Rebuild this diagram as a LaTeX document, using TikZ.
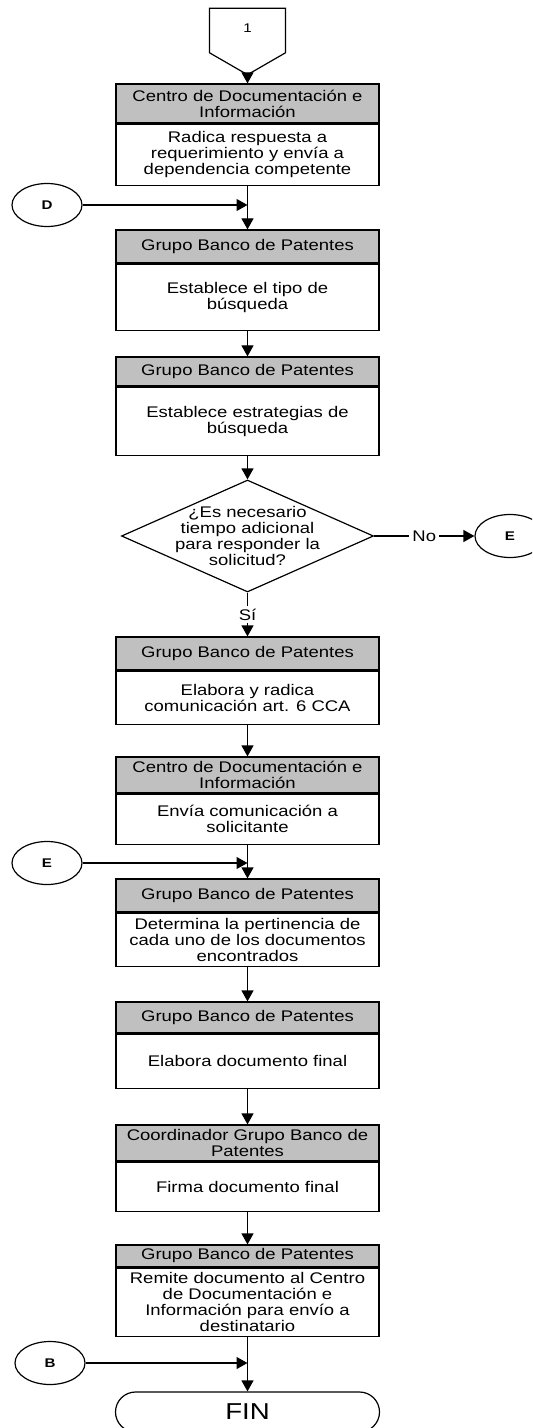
\documentclass[tikz,border=0pt]{standalone}
\usepackage{fontspec}
\setmainfont{Liberation Sans}[FakeStretch=1.2]
\usetikzlibrary{shapes,arrows.meta,positioning}
\definecolor{headgray}{RGB}{192,192,192}
\newcommand{\boxfont}{\fontsize{7.7}{8}\selectfont}

\begin{document}
\begin{tikzpicture}[
    x=0.5pt, y=-0.5pt,
    font=\boxfont,
    head/.style={draw, fill=headgray, rectangle, minimum width=131.5pt, align=center, inner sep=1pt, line width=0.6pt},
    body/.style={draw, fill=white, rectangle, minimum width=131.5pt, align=center, inner sep=1pt, line width=0.6pt},
    connector/.style={draw, ellipse, minimum width=35pt, minimum height=21.5pt, inner sep=0pt, line width=0.6pt, font=\fontsize{6.3}{7}\selectfont\bfseries},
    offpage/.style={draw, signal, signal to=south, signal pointer angle=120, minimum width=38pt, minimum height=23.5pt, inner sep=0pt, line width=0.6pt, font=\fontsize{6.3}{7}\selectfont},
    decision/.style={draw, diamond, aspect=2.25, minimum width=126pt, minimum height=56pt, inner xsep=-8pt, inner ysep=0pt, align=center, line width=0.6pt},
    terminal/.style={draw, rectangle, rounded corners=10pt, minimum width=132pt, minimum height=20pt, line width=0.6pt, font=\fontsize{11.5}{12}\selectfont},
    tag/.style={fill=white, inner sep=1.5pt},
    arrow/.style={-{Triangle[width=6pt,length=5.5pt]}, line width=0.6pt}
]
\useasboundingbox (0,0) rectangle (532,1428);
\clip (0,0) rectangle (532,1428);

% Start
\node[offpage] (c1) at (247.5,30.5) {\raisebox{2.5pt}{1}};

% Reception
\node[head, minimum height=19.5pt] (h1) at (247.5,103.5) {Centro de Documentación e\\Información};
\node[body, below=0pt of h1, minimum height=30.5pt] (b1) {Radica respuesta a\\requerimiento y envía a\\dependencia competente};

% Search
\node[head, minimum height=16.5pt] (h2) at (247.5,246.5) {Grupo Banco de Patentes};
\node[body, below=0pt of h2, minimum height=33pt] (b2) {Establece el tipo de\\búsqueda};
\node[head, minimum height=14.5pt] (h3) at (247.5,371.5) {Grupo Banco de Patentes};
\node[body, below=0pt of h3, minimum height=34pt] (b3) {Establece estrategias de\\búsqueda};

% Decision
\node[decision] (q) at (247.5,536) {¿Es necesario\\tiempo adicional\\para responder la\\solicitud?};
\node[connector] (Er) at (510,536) {E};

% Extra time
\node[head, minimum height=16.5pt] (h4) at (247.5,653.5) {Grupo Banco de Patentes};
\node[body, below=0pt of h4, minimum height=26.5pt] (b4) {Elabora y radica\\comunicación art. 6 CCA};
\node[head, minimum height=18pt] (h5) at (247.5,775) {Centro de Documentación e\\Información};
\node[body, below=0pt of h5, minimum height=25pt] (b5) {Envía comunicación a\\solicitante};

% Answer
\node[head, minimum height=16.5pt] (h6) at (247.5,895.5) {Grupo Banco de Patentes};
\node[body, below=0pt of h6, minimum height=26.5pt] (b6) {Determina la pertinencia de\\cada uno de los documentos\\encontrados};
\node[head, minimum height=15.5pt] (h7) at (247.5,1017.5) {Grupo Banco de Patentes};
\node[body, below=0pt of h7, minimum height=27pt] (b7) {Elabora documento final};
\node[head, minimum height=18pt] (h8) at (247.5,1143) {Coordinador Grupo Banco de\\Patentes};
\node[body, below=0pt of h8, minimum height=24.5pt] (b8) {Firma documento final};
\node[head, minimum height=11pt] (h9) at (247.5,1256) {Grupo Banco de Patentes};
\node[body, below=0pt of h9, minimum height=34pt] (b9) {Remite documento al Centro\\de Documentación e\\Información para envío a\\destinatario};

% End
\node[terminal] (fin) at (247.5,1412) {FIN};

% Side connectors
\node[connector] (D) at (47,205) {D};
\node[connector] (El) at (47,863) {E};
\node[connector] (B) at (50,1363) {B};
\coordinate (jD) at (247.5,205);
\coordinate (jE) at (247.5,863);
\coordinate (jB) at (247.5,1363);

% Arrows
\draw[arrow] (c1.south) -- (h1);
\foreach \a/\b in {b1/h2, b2/h3, b3/q, b4/h5, b5/h6, b6/h7, b7/h8, b8/h9, b9/fin}
    \draw[arrow] (\a) -- (\b);
\draw[arrow] (q) -- node[tag] {No} (Er);
\draw[arrow] (q) -- node[tag] {Sí} (h4);

\foreach \s/\j in {D/jD, El/jE, B/jB}
    \draw[arrow] (\s) -- (\j);
\end{tikzpicture}
\end{document}
